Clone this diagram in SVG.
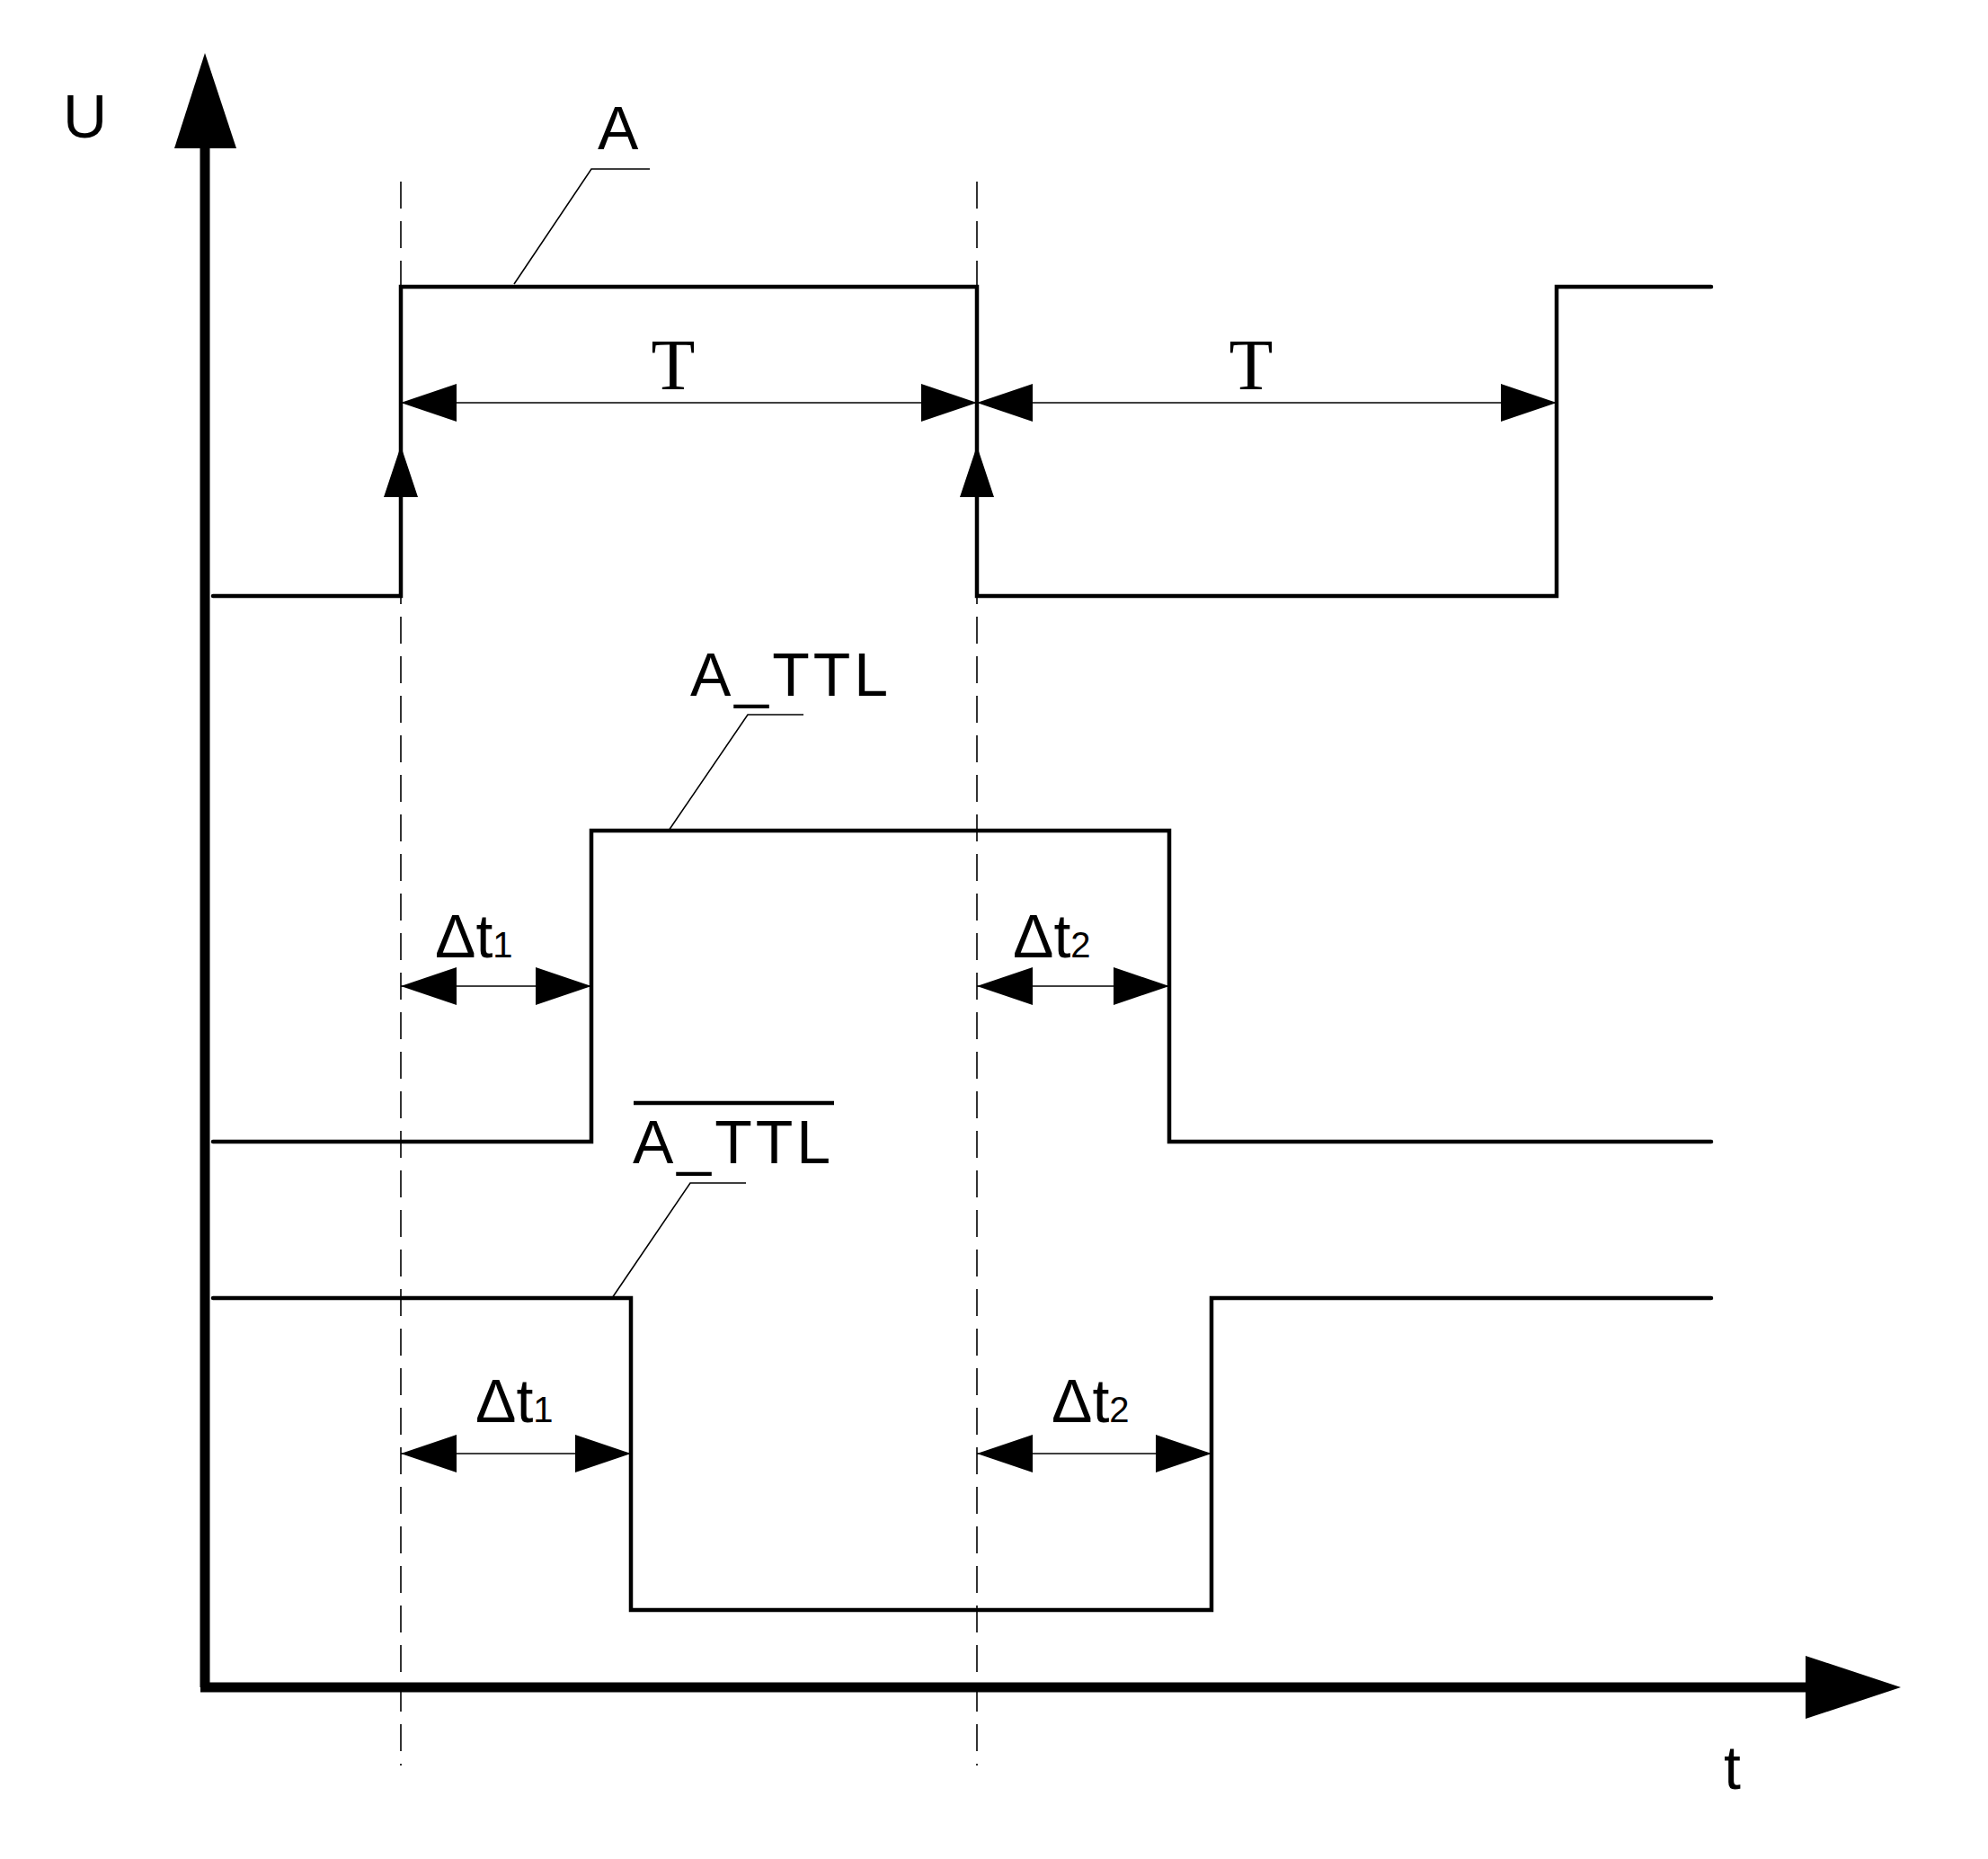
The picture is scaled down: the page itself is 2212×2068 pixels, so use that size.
<svg xmlns="http://www.w3.org/2000/svg" width="2212" height="2068" viewBox="0 0 2212 2068">
<style>
.sig{fill:none;stroke:#000;stroke-width:4.5;stroke-linejoin:miter;stroke-linecap:round}
.thin{fill:none;stroke:#000;stroke-width:1.6}
.dash{fill:none;stroke:#000;stroke-width:1.6;stroke-dasharray:30 14}
.ax{fill:none;stroke:#000;stroke-width:11}
.hd{fill:#000}
.lbl{font-family:"Liberation Sans",Arial,sans-serif;font-size:68px;fill:#000}
.ser{font-family:"Liberation Serif","Times New Roman",serif;font-size:80px;fill:#000}
.sub{font-size:40px}
</style>
<rect width="2212" height="2068" fill="#fff"/>
<g id="axes">
<line class="ax" x1="228" y1="160" x2="228" y2="1877"/>
<polygon class="hd" points="228,59 194,165 263,165"/>
<line class="ax" x1="223" y1="1877" x2="2015" y2="1877"/>
<polygon class="hd" points="2115,1877 2009,1842 2009,1912"/>
<text class="lbl" x="70" y="153" font-size="74">U</text>
<text class="lbl" x="1918" y="1990" font-size="74">t</text>
</g>
<g id="guides">
<line class="dash" x1="446" y1="202" x2="446" y2="1964"/>
<line class="dash" x1="1087" y1="202" x2="1087" y2="1964"/>
</g>
<g id="signal-A">
<polyline class="sig" points="237,663 446,663 446,319 1087,319 1087,663 1732,663 1732,319 1904,319"/>
<polygon class="hd" points="446,496 427,553 465,553"/>
<polygon class="hd" points="1087,496 1068,553 1106,553"/>
<polyline class="thin" points="572,316 658,188 723,188"/>
<text class="lbl" x="665" y="166">A</text>
</g>
<g id="signal-A_TTL">
<polyline class="sig" points="237,1270 658,1270 658,924 1301,924 1301,1270 1904,1270"/>
<polyline class="thin" points="744,924 832,795 894,795"/>
<text class="lbl" x="768" y="774" letter-spacing="4">A_TTL</text>
</g>
<g id="signal-A_TTL-bar">
<polyline class="sig" points="237,1444 702,1444 702,1791 1348,1791 1348,1444 1904,1444"/>
<polyline class="thin" points="681,1444 768,1316 830,1316"/>
<line x1="705" y1="1227" x2="928" y2="1227" stroke="#000" stroke-width="4.5"/>
<text class="lbl" x="704" y="1294" letter-spacing="4">A_TTL</text>
</g>
<g id="connectors">
<line class="thin" x1="446" y1="448" x2="1087" y2="448"/>
<polygon class="hd" points="446,448 508,427 508,469"/>
<polygon class="hd" points="1087,448 1025,427 1025,469"/>
<line class="thin" x1="1087" y1="448" x2="1732" y2="448"/>
<polygon class="hd" points="1087,448 1149,427 1149,469"/>
<polygon class="hd" points="1732,448 1670,427 1670,469"/>
<line class="thin" x1="446" y1="1097" x2="658" y2="1097"/>
<polygon class="hd" points="446,1097 508,1076 508,1118"/>
<polygon class="hd" points="658,1097 596,1076 596,1118"/>
<line class="thin" x1="1087" y1="1097" x2="1301" y2="1097"/>
<polygon class="hd" points="1087,1097 1149,1076 1149,1118"/>
<polygon class="hd" points="1301,1097 1239,1076 1239,1118"/>
<line class="thin" x1="446" y1="1617" x2="702" y2="1617"/>
<polygon class="hd" points="446,1617 508,1596 508,1638"/>
<polygon class="hd" points="702,1617 640,1596 640,1638"/>
<line class="thin" x1="1087" y1="1617" x2="1348" y2="1617"/>
<polygon class="hd" points="1087,1617 1149,1596 1149,1638"/>
<polygon class="hd" points="1348,1617 1286,1596 1286,1638"/>
</g>
<g id="labels">
<text class="ser" x="749" y="433" text-anchor="middle">T</text>
<text class="ser" x="1392" y="433" text-anchor="middle">T</text>
<text class="lbl" x="484" y="1065">Δt<tspan class="sub">1</tspan></text>
<text class="lbl" x="1127" y="1065">Δt<tspan class="sub">2</tspan></text>
<text class="lbl" x="529" y="1582">Δt<tspan class="sub">1</tspan></text>
<text class="lbl" x="1170" y="1582">Δt<tspan class="sub">2</tspan></text>
</g>
</svg>
